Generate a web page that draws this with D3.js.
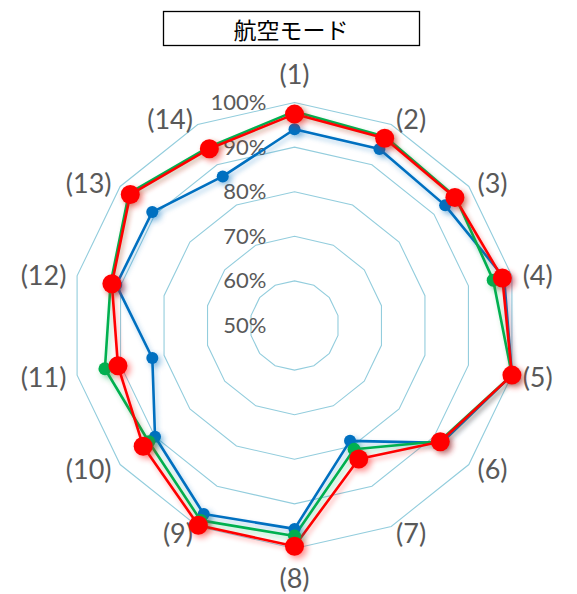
<!DOCTYPE html>
<html>
<head>
<meta charset="utf-8">
<script src="https://cdn.jsdelivr.net/npm/d3@7"></script>
<style>
  html, body { margin: 0; padding: 0; background: #ffffff; }
  svg { display: block; }
</style>
</head>
<body>
<svg id="chart" width="577" height="594"></svg>
<script>
// Categories around the radar (clockwise from the top)
const categories = ["(1)", "(2)", "(3)", "(4)", "(5)", "(6)", "(7)", "(8)", "(9)", "(10)", "(11)", "(12)", "(13)", "(14)"];
// Series values, in percent
const blueValues  = [94.0, 93.9, 93.2, 98.2, 100, 92.2, 78.7, 95.6, 96.9, 90.0, 82.7, 91.0, 90.8, 87.1];
const greenValues = [98.0, 97.0, 96.2, 95.7, 100, 91.6, 80.8, 97.2, 98.5, 91.8, 93.6, 92.3, 97.5, 94.4];
const redValues   = [97.4, 96.6, 96.0, 97.8, 100, 91.8, 83.2, 99.5, 99.7, 93.4, 90.6, 92.0, 97.1, 94.0];
// Radial axis ticks
const tickValues = [50, 60, 70, 80, 90, 100];
const tickLabels = ["50%", "60%", "70%", "80%", "90%", "100%"];
const titleText = "航空モード";

const svg = d3.select("#chart");
const cx = 294.5, cy = 325.5, R = 223;

const r = d3.scaleLinear().domain([50, 100]).range([0, R]);
const angle = d3.scaleLinear().domain([0, categories.length]).range([0, 2 * Math.PI]);

const defs = svg.append("defs");
function softShadow(id, dx, dy, blur, op) {
  const f = defs.append("filter").attr("id", id)
    .attr("x", "-20%").attr("y", "-20%").attr("width", "140%").attr("height", "140%");
  f.append("feGaussianBlur").attr("in", "SourceGraphic").attr("stdDeviation", blur).attr("result", "b");
  f.append("feOffset").attr("in", "b").attr("dx", dx).attr("dy", dy).attr("result", "o");
  f.append("feComponentTransfer").attr("in", "o").attr("result", "t")
    .append("feFuncA").attr("type", "linear").attr("slope", op);
  const m = f.append("feMerge");
  m.append("feMergeNode").attr("in", "t");
  m.append("feMergeNode").attr("in", "SourceGraphic");
}
softShadow("lineShadow", 2, 3, 2.5, 0.35);
softShadow("dotShadow", 3, 3, 3, 0.45);

const g = svg.append("g").attr("transform", `translate(${cx},${cy})`);

const pt = (i, v) => {
  const a = angle(i);
  return [Math.sin(a) * r(v), -Math.cos(a) * r(v)];
};

// Grid rings
tickValues.filter(v => v > 50).forEach(v => {
  const pts = categories.map((c, i) => pt(i, v));
  g.append("path")
    .attr("d", d3.line().curve(d3.curveLinearClosed)(pts))
    .attr("fill", "none")
    .attr("stroke", "#93CDDD")
    .attr("stroke-width", 1.1);
});

// Radial tick labels
g.selectAll("text.tick")
  .data(tickValues)
  .join("text")
  .attr("class", "tick")
  .attr("x", -28)
  .attr("y", v => -r(v) + 2)
  .attr("text-anchor", "end")
  .attr("dominant-baseline", "middle")
  .attr("font-family", "Lato, 'Open Sans', sans-serif")
  .attr("font-size", 22)
  .attr("fill", "#595959")
  .text((v, i) => tickLabels[i]);

// Category labels outside the outer ring
const catLabels = g.selectAll("text.cat")
  .data(categories)
  .join("text")
  .attr("class", "cat")
  .attr("text-anchor", "middle")
  .attr("dominant-baseline", "central")
  .attr("font-family", "Lato, 'Open Sans', sans-serif")
  .attr("font-size", 27)
  .attr("fill", "#595959")
  .text(d => d);
catLabels.each(function (d, i) {
  const a = angle(i);
  const s = Math.sin(a), c = Math.cos(a);
  const w = this.getComputedTextLength();
  const sx = Math.abs(s) < 0.01 ? 0 : Math.sign(s);
  let x = s * (R + 11) + sx * w / 2;
  let y = -c * (R + 7);
  if (Math.abs(s) < 0.01) y -= Math.sign(c) * 22;
  d3.select(this).attr("x", x).attr("y", y);
});

// Series
const series = [
  { values: blueValues,  color: "#0070C0", dot: 6 },
  { values: greenValues, color: "#00B050", dot: 6.5 },
  { values: redValues,   color: "#FF0000", dot: 9.5 }
];

series.forEach(sr => {
  const pts = sr.values.map((v, i) => pt(i, v));
  g.append("path")
    .attr("d", d3.line().curve(d3.curveLinearClosed)(pts))
    .attr("fill", "none")
    .attr("stroke", sr.color)
    .attr("stroke-width", 2.6)
    .attr("stroke-linejoin", "round")
    .attr("filter", "url(#lineShadow)");
});
series.forEach(sr => {
  const pts = sr.values.map((v, i) => pt(i, v));
  g.append("g").attr("filter", "url(#dotShadow)")
    .selectAll("circle")
    .data(pts)
    .join("circle")
    .attr("cx", d => d[0])
    .attr("cy", d => d[1])
    .attr("r", sr.dot)
    .attr("fill", sr.color);
});

// Title box
svg.append("rect")
  .attr("x", 163.5).attr("y", 11.5)
  .attr("width", 256).attr("height", 34)
  .attr("fill", "#ffffff")
  .attr("stroke", "#000000")
  .attr("stroke-width", 1.3);
svg.append("text")
  .attr("x", 291).attr("y", 29)
  .attr("text-anchor", "middle")
  .attr("dominant-baseline", "central")
  .attr("font-family", "'Noto Sans CJK JP', sans-serif")
  .attr("font-size", 23)
  .attr("fill", "#000000")
  .text(titleText);
</script>
</body>
</html>
